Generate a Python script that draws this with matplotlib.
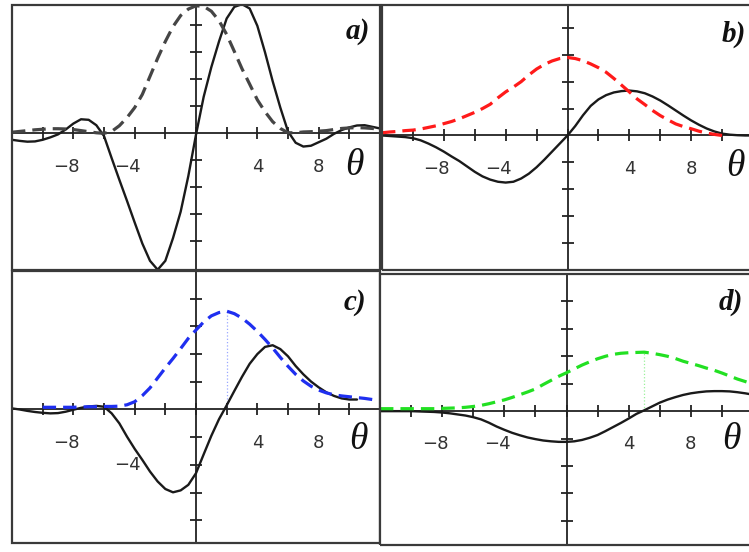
import numpy as np
import matplotlib
matplotlib.use("Agg")
import matplotlib.pyplot as plt
from matplotlib.patches import Rectangle

# ---------------- data ----------------
theta = np.arange(-12.0, 12.01, 0.5)
nan = np.nan

# panel a)
a_dashed = [0.04, 0.07, 0.10, 0.13, 0.15, 0.17, 0.17, 0.16, 0.14, 0.10, 0.06, 0.02,
            0.00, 0.07, 0.28, 0.58, 0.95, 1.44, 2.11, 2.78, 3.40, 3.95, 4.36, 4.60,
            4.72, 4.70, 4.52, 4.17, 3.66, 3.03, 2.39, 1.82, 1.24, 0.80, 0.43, 0.18,
            0.02, 0.02, 0.05, 0.06, 0.08, 0.10, 0.14, 0.18, 0.20, 0.21, 0.20, 0.18, 0.15]
a_solid = [-0.24, -0.28, -0.31, -0.30, -0.24, -0.15, -0.04, 0.14, 0.36, 0.52, 0.50, 0.30,
           -0.10, -0.92, -1.72, -2.50, -3.30, -4.08, -4.72, -5.05, -4.72, -3.88, -2.90, -1.58,
           -0.05, 1.35, 2.45, 3.40, 4.25, 4.68, 4.78, 4.62, 3.98, 3.00, 1.93, 0.95,
           0.07, -0.35, -0.49, -0.46, -0.33, -0.20, -0.02, 0.12, 0.22, 0.29, 0.30, 0.24, 0.18]

# panel b)
b_dashed = [0.10, 0.13, 0.15, 0.18, 0.20, 0.24, 0.30, 0.36, 0.44, 0.52, 0.62, 0.74,
            0.86, 1.00, 1.16, 1.40, 1.62, 1.80, 2.00, 2.25, 2.47, 2.64, 2.77, 2.86,
            2.90, 2.86, 2.78, 2.66, 2.52, 2.35, 2.12, 1.87, 1.62, 1.36, 1.15, 0.93,
            0.74, 0.58, 0.43, 0.33, 0.25, 0.16, 0.09, 0.04, 0.00, nan, nan, nan, nan]
b_solid = [0.00, -0.02, -0.04, -0.06, -0.10, -0.18, -0.30, -0.44, -0.60, -0.78, -0.95, -1.15,
           -1.35, -1.52, -1.64, -1.72, -1.75, -1.72, -1.60, -1.42, -1.18, -0.90, -0.60, -0.30,
           0.00, 0.35, 0.75, 1.10, 1.34, 1.50, 1.60, 1.65, 1.67, 1.64, 1.57, 1.45,
           1.30, 1.12, 0.93, 0.74, 0.56, 0.40, 0.26, 0.15, 0.07, 0.03, 0.01, 0.00, 0.00]

# panel c)
c_dashed = [nan, nan, nan, nan, 0.08, 0.08, 0.08, 0.08, 0.08, 0.09, 0.10, 0.10,
            0.11, 0.11, 0.12, 0.17, 0.28, 0.50, 0.78, 1.14, 1.50, 1.84, 2.20, 2.57,
            2.87, 3.16, 3.38, 3.50, 3.55, 3.46, 3.30, 3.08, 2.82, 2.53, 2.22, 1.88,
            1.56, 1.27, 1.03, 0.84, 0.70, 0.60, 0.53, 0.49, 0.46, 0.43, 0.40, 0.36, 0.33]
c_solid = [0.04, 0.00, -0.05, -0.09, -0.12, -0.14, -0.13, -0.08, -0.01, 0.06, 0.11, 0.13,
           0.10, -0.14, -0.50, -0.98, -1.42, -1.82, -2.24, -2.60, -2.87, -2.99, -2.92, -2.72,
           -2.30, -1.62, -0.95, -0.35, 0.15, 0.67, 1.18, 1.65, 2.00, 2.26, 2.32, 2.18,
           1.92, 1.57, 1.27, 1.01, 0.80, 0.62, 0.49, 0.40, 0.36, 0.36, nan, nan, nan]

# panel d)
d_dashed = [0.09, 0.09, 0.09, 0.09, 0.09, 0.09, 0.09, 0.09, 0.10, 0.11, 0.12, 0.14,
            0.17, 0.21, 0.27, 0.34, 0.41, 0.50, 0.60, 0.70, 0.81, 0.97, 1.12, 1.27,
            1.40, 1.54, 1.68, 1.80, 1.91, 2.00, 2.07, 2.11, 2.13, 2.14, 2.15, 2.11,
            2.06, 2.00, 1.92, 1.82, 1.74, 1.66, 1.57, 1.49, 1.39, 1.28, 1.17, 1.08, 0.98]
d_solid = [0.00, 0.00, 0.00, 0.00, 0.00, -0.01, -0.02, -0.03, -0.05, -0.08, -0.12, -0.16,
           -0.22, -0.30, -0.42, -0.56, -0.68, -0.79, -0.88, -0.96, -1.02, -1.07, -1.10, -1.12,
           -1.12, -1.10, -1.05, -0.97, -0.87, -0.73, -0.58, -0.43, -0.27, -0.10, 0.03, 0.17,
           0.31, 0.42, 0.51, 0.59, 0.65, 0.69, 0.72, 0.73, 0.73, 0.72, 0.69, 0.65, 0.60]

panel_labels = ["a)", "b)", "c)", "d)"]
tick_label_values = [-8, -4, 4, 8]
axis_label = "θ"

# ---------------- styling ----------------
W, H = 749, 552
fig = plt.figure(figsize=(W / 100, H / 100), dpi=100)
fig.patch.set_facecolor("white")

def frac(left, top, right, bottom):
    return [left / W, 1 - bottom / H, (right - left) / W, (bottom - top) / H]

panels = [
    dict(rect=frac(12, 5, 380, 270), ylim=(-5.06, 4.75), dashed=a_dashed, solid=a_solid,
         dcolor="#454545", vline=False, label=panel_labels[0], lab_xy=(0.972, 0.90),
         theta_xy=(10.3, -1.2), m4_off=-24),
    dict(rect=frac(382, 5, 753, 270), ylim=(-5.0, 4.85), dashed=b_dashed, solid=b_solid,
         dcolor="#ff1a1a", vline=False, label=panel_labels[1], lab_xy=(0.982, 0.89),
         theta_xy=(10.85, -1.15), m4_off=-24),
    dict(rect=frac(12, 271, 380, 543), ylim=(-4.82, 5.0), dashed=c_dashed, solid=c_solid,
         dcolor="#1f2ff0", vline=True, vcolor="#9aa8ff", label=panel_labels[2],
         lab_xy=(0.962, 0.886), theta_xy=(10.6, -1.1), m4_off=-40),
    dict(rect=frac(380, 274, 753, 545), ylim=(-4.88, 5.0), dashed=d_dashed, solid=d_solid,
         dcolor="#22e022", vline=True, vcolor="#9af09a", label=panel_labels[3],
         lab_xy=(0.972, 0.896), theta_xy=(10.6, -1.05), m4_off=-24),
]

for p in panels:
    ax = fig.add_axes(p["rect"])
    ax.set_xlim(-12, 12)
    ax.set_ylim(*p["ylim"])
    for s in ("top", "right"):
        ax.spines[s].set_visible(False)
    for s in ("left", "bottom"):
        ax.spines[s].set_position(("data", 0))
        ax.spines[s].set_linewidth(1.3)
        ax.spines[s].set_color("#222222")
    ax.add_patch(Rectangle((0, 0), 1, 1, transform=ax.transAxes, fill=False,
                           lw=1.6, ec="#3a3a3a", clip_on=False, zorder=5))
    ax.set_xticks(np.arange(-10, 11, 2))
    ax.set_yticks([-4, -3, -2, -1, 1, 2, 3, 4])
    ax.set_xticklabels([])
    ax.set_yticklabels([])
    ax.tick_params(axis="x", direction="inout", length=8, width=1.3, color="#222222")
    ax.tick_params(axis="y", direction="inout", length=9, width=1.3, color="#222222")

    if p["vline"]:
        dv = np.array(p["dashed"], dtype=float)
        i = int(np.nanargmax(dv))
        ax.plot([theta[i], theta[i]], [0, dv[i]], ls=":", lw=0.9, color=p["vcolor"], zorder=2)

    ax.plot(theta, p["solid"], color="#1a1a1a", lw=1.7, zorder=3,
            solid_capstyle="round", solid_joinstyle="round")
    ax.plot(theta, p["dashed"], color=p["dcolor"], lw=2.3, dashes=(4.2, 2.2), zorder=4)

    for v in tick_label_values:
        yoff = p["m4_off"] if v == -4 else -24
        if v < 0:
            ax.annotate(f"\u2212{abs(v)}", xy=(v, 0), xytext=(4.5, yoff), textcoords="offset points",
                        ha="right", va="center", fontsize=13, color="#333333",
                        family="DejaVu Sans")
        else:
            ax.annotate(f"{v}", xy=(v, 0), xytext=(0, yoff), textcoords="offset points",
                        ha="center", va="center", fontsize=13, color="#333333",
                        family="DejaVu Sans")

    ax.text(p["theta_xy"][0], p["theta_xy"][1], axis_label, ha="center", va="center",
            fontsize=27, fontstyle="italic", family="Liberation Serif", color="#111111")
    ax.text(p["lab_xy"][0], p["lab_xy"][1], p["label"], transform=ax.transAxes,
            ha="right", va="center", fontsize=21, fontstyle="italic", fontweight="bold",
            family="Liberation Serif", color="#111111")

fig.savefig("out.png", dpi=100, facecolor="white")
